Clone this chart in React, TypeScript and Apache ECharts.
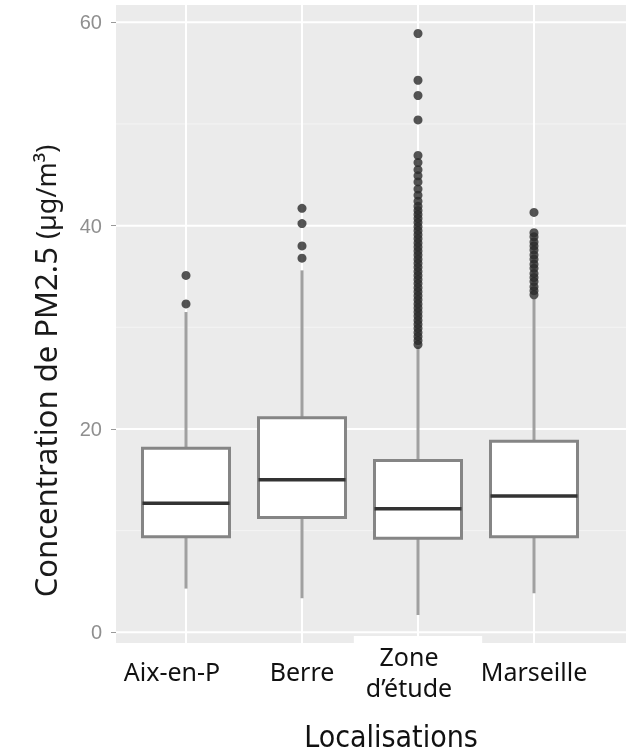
import React, { useEffect, useRef } from "react";
import * as echarts from "echarts";

const categories = ["Aix-en-P", "Berre", "Zone\nd’étude", "Marseille"];
const whiskerLow = [4.3, 3.35, 1.7, 3.84];
const q1s = [9.4, 11.3, 9.26, 9.4];
const medians = [12.7, 15.0, 12.15, 13.4];
const q3s = [18.1, 21.1, 16.9, 18.8];
const whiskerHigh = [31.5, 35.6, 28.1, 32.8];

const outliersAix = [35.1, 32.3];
const outliersBerre = [41.7, 40.2, 38.0, 36.8];
const outliersZone = [
  58.9, 54.3, 52.8, 50.4, 46.9, 46.2, 45.5, 44.9, 44.3, 43.6, 43.0, 42.4, 41.9,
  41.5, 41.1, 40.7, 40.3, 39.9, 39.5, 39.1, 38.7, 38.3, 37.9, 37.5, 37.1, 36.7,
  36.3, 35.9, 35.5, 35.1, 34.7, 34.3, 33.9, 33.5, 33.1, 32.7, 32.3, 31.9, 31.5,
  31.1, 30.7, 30.3, 29.9, 29.5, 29.1, 28.7, 28.3,
];
const outliersMarseille = [
  41.3, 39.3, 38.9, 38.4, 38.0, 37.6, 37.1, 36.7, 36.2, 35.8, 35.3, 34.9, 34.5,
  34.0, 33.6, 33.2,
];
const yTicks = [0, 20, 40, 60];
const yMinor = [10, 30, 50];

const yTitle = "Concentration de PM2.5 ";
const yUnit = "(µg/m³)";
const xTitle = "Localisations";

export default function App() {
  const ref = useRef<HTMLDivElement>(null);
  useEffect(() => {
    if (!ref.current) return;
    const chart = echarts.init(ref.current, null, { renderer: "svg" });

    const boxData = categories.map((_, i) => [
      i,
      whiskerLow[i],
      q1s[i],
      medians[i],
      q3s[i],
      whiskerHigh[i],
    ]);
    const outlierGroups = [outliersAix, outliersBerre, outliersZone, outliersMarseille];
    const outlierData: number[][] = [];
    outlierGroups.forEach((arr, i) => arr.forEach((v) => outlierData.push([i, v])));

    const labelBase = {
      color: "#111",
      fontFamily: "Noto Sans",
      fontSize: 25,
      lineHeight: 31,
      verticalAlign: "middle",
    };

    const option: any = {
      animation: false,
      grid: {
        left: 128,
        right: 41,
        top: 22.3,
        bottom: 120.7,
        containLabel: false,
        outerBoundsMode: "none",
      },
      xAxis: {
        type: "category",
        data: categories.map((c, i) => {
          if (i === 0) return { value: c, textStyle: { ...labelBase, padding: [0, 28, 0, 0] } };
          if (i === 2)
            return {
              value: c,
              textStyle: {
                ...labelBase,
                backgroundColor: "#fff",
                padding: [8, 30, 0, 12],
              },
            };
          return c;
        }),
        offset: 10.7,
        axisLine: { show: false },
        axisTick: { show: true, alignWithLabel: true, length: 4, lineStyle: { color: "#bbb" } },
        axisLabel: {
          ...labelBase,
          margin: 28,
          interval: 0,
        },
        splitLine: { show: false },
        name: xTitle,
        nameLocation: "middle",
        nameGap: 78,
        nameTextStyle: {
          color: "#111",
          fontFamily: "DejaVu Sans Condensed",
          fontSize: 30,
          padding: [0, 0, 0, 62],
        },
      },
      yAxis: {
        type: "value",
        min: 0,
        max: 60,
        interval: 20,
        offset: 12,
        axisLine: { show: false },
        axisTick: { show: true, length: 5, lineStyle: { color: "#999" } },
        axisLabel: {
          color: "#8f8f8f",
          fontFamily: "Liberation Sans",
          fontSize: 20,
          margin: 14,
        },
        splitLine: { show: false },
      },
      series: [
        {
          type: "custom",
          z: 5,
          data: boxData,
          encode: { x: 0, y: [1, 2, 3, 4, 5] },
          renderItem: (params: any, api: any) => {
            const idx = api.value(0);
            const lo = api.coord([idx, api.value(1)]);
            const q1 = api.coord([idx, api.value(2)]);
            const med = api.coord([idx, api.value(3)]);
            const q3 = api.coord([idx, api.value(4)]);
            const hi = api.coord([idx, api.value(5)]);
            const band = api.size([1, 0])[0];
            const half = (band * 0.75) / 2;
            const cx = med[0];
            return {
              type: "group",
              children: [
                {
                  type: "line",
                  shape: { x1: cx, y1: q3[1], x2: cx, y2: hi[1] },
                  style: { stroke: "#a0a0a0", lineWidth: 3 },
                },
                {
                  type: "line",
                  shape: { x1: cx, y1: q1[1], x2: cx, y2: lo[1] },
                  style: { stroke: "#a0a0a0", lineWidth: 3 },
                },
                {
                  type: "rect",
                  shape: { x: cx - half, y: q3[1], width: half * 2, height: q1[1] - q3[1] },
                  style: { fill: "#ffffff", stroke: "#858585", lineWidth: 3 },
                },
                {
                  type: "line",
                  shape: { x1: cx - half, y1: med[1], x2: cx + half, y2: med[1] },
                  style: { stroke: "#333333", lineWidth: 3.5 },
                },
              ],
            };
          },
        },
        {
          type: "scatter",
          z: 6,
          data: outlierData,
          symbol: "circle",
          symbolSize: 9,
          itemStyle: { color: "#2b2b2b" },
        },
      ],
    };
    chart.setOption(option);

    const xl = 116, xr = 626, yt = 5, yb = 643;
    const g: any[] = [
      {
        type: "rect",
        z: 0,
        silent: true,
        shape: { x: xl, y: yt, width: xr - xl, height: yb - yt },
        style: { fill: "#EBEBEB" },
      },
    ];
    yMinor.forEach((v) => {
      const y = chart.convertToPixel({ gridIndex: 0 }, [0, v])[1];
      g.push({
        type: "line",
        z: 1,
        silent: true,
        shape: { x1: xl, y1: y, x2: xr, y2: y },
        style: { stroke: "#F4F4F4", lineWidth: 1 },
      });
    });
    yTicks.forEach((v) => {
      const y = chart.convertToPixel({ gridIndex: 0 }, [0, v])[1];
      g.push({
        type: "line",
        z: 1,
        silent: true,
        shape: { x1: xl, y1: y, x2: xr, y2: y },
        style: { stroke: "#ffffff", lineWidth: 2 },
      });
    });
    categories.forEach((_, i) => {
      const x = chart.convertToPixel({ gridIndex: 0 }, [i, 0])[0];
      g.push({
        type: "line",
        z: 1,
        silent: true,
        shape: { x1: x, y1: yt, x2: x, y2: yb },
        style: { stroke: "#ffffff", lineWidth: 2 },
      });
    });
    g.push({
      type: "text",
      z: 10,
      x: 45,
      y: 371,
      rotation: Math.PI / 2,
      style: {
        text: `{a|${yTitle}}{b|${yUnit}}`,
        align: "center",
        verticalAlign: "middle",
        rich: {
          a: { fontFamily: "Noto Sans", fontSize: 31, fill: "#1a1a1a" },
          b: { fontFamily: "Noto Sans", fontSize: 27, fill: "#1a1a1a" },
        },
      },
    });
    chart.setOption({ graphic: g });

    return () => chart.dispose();
  }, []);
  return (
    <div
      ref={ref}
      style={{ position: "fixed", left: 0, top: 0, width: 633, height: 753 }}
    />
  );
}
